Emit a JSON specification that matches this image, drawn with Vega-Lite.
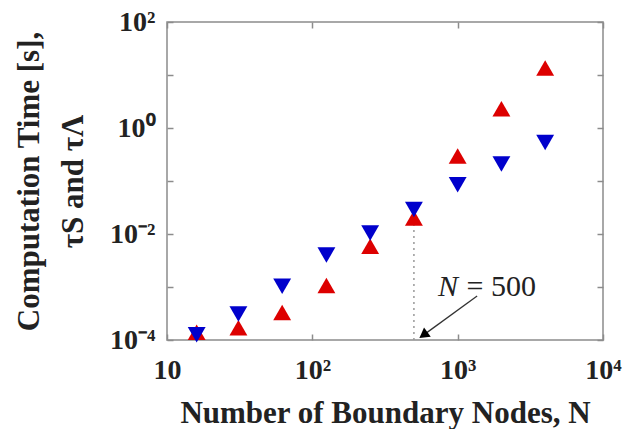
{
  "$schema": "https://vega.github.io/schema/vega-lite/v6.json",
  "width": 436,
  "height": 318,
  "autosize": "none",
  "padding": {"left": 167, "top": 22, "right": 34, "bottom": 89},
  "background": "white",
  "config": {
    "view": {"stroke": "#8c8c8c", "strokeWidth": 1.5},
    "axis": {
      "grid": false,
      "domain": false,
      "tickColor": "#8c8c8c",
      "tickSize": -6,
      "tickWidth": 1.5,
      "labelFlush": false,
      "labelFont": "Liberation Serif",
      "labelFontWeight": "bold",
      "labelFontSize": 28,
      "labelColor": "#222222",
      "titleFont": "Liberation Serif",
      "titleFontWeight": "bold",
      "titleFontSize": 31,
      "titleColor": "#222222"
    }
  },
  "datasets": {
    "times": [
      {"N": 16, "tau": 0.00014, "series": "S"},
      {"N": 31, "tau": 0.00017, "series": "S"},
      {"N": 62, "tau": 0.00033, "series": "S"},
      {"N": 125, "tau": 0.00107, "series": "S"},
      {"N": 250, "tau": 0.0059, "series": "S"},
      {"N": 500, "tau": 0.020, "series": "S"},
      {"N": 1000, "tau": 0.295, "series": "S"},
      {"N": 2000, "tau": 2.32, "series": "S"},
      {"N": 4000, "tau": 13.5, "series": "S"},
      {"N": 16, "tau": 0.000126, "series": "L"},
      {"N": 31, "tau": 0.00031, "series": "L"},
      {"N": 62, "tau": 0.00103, "series": "L"},
      {"N": 125, "tau": 0.0040, "series": "L"},
      {"N": 250, "tau": 0.0104, "series": "L"},
      {"N": 500, "tau": 0.029, "series": "L"},
      {"N": 1000, "tau": 0.085, "series": "L"},
      {"N": 2000, "tau": 0.21, "series": "L"},
      {"N": 4000, "tau": 0.53, "series": "L"}
    ],
    "guide": [{"N": 500, "y1": 0.0001, "y2": 0.016}],
    "pointer": [{"N1": 1361, "t1": 0.000676, "N2": 581, "t2": 0.0001236}],
    "head": [{"N": 581, "tau": 0.0001236}],
    "labelN": [{"N": 733, "tau": 0.000676, "part": "N"}],
    "labelEq": [{"N": 1150, "tau": 0.000676, "part": "= 500"}]
  },
  "layer": [
    {
      "data": {"name": "guide"},
      "mark": {"type": "rule", "color": "#999999", "strokeWidth": 1.5, "strokeDash": [2, 4]},
      "encoding": {
        "x": {"field": "N", "type": "quantitative", "scale": {"type": "log", "domain": [10, 10000]},
              "axis": {"orient": "top", "values": [10, 100, 1000, 10000], "labels": false, "title": null}},
        "y": {"field": "y1", "type": "quantitative", "scale": {"type": "log", "domain": [0.0001, 100]},
              "axis": {"orient": "right", "values": [0.0001, 0.001, 0.01, 0.1, 1, 10, 100], "labels": false, "title": null}},
        "y2": {"field": "y2"}
      }
    },
    {
      "data": {"name": "times"},
      "mark": {"type": "point", "filled": true, "opacity": 1, "size": 320},
      "encoding": {
        "x": {"field": "N", "type": "quantitative", "scale": {"type": "log", "domain": [10, 10000]},
              "axis": {"orient": "bottom", "values": [10, 100, 1000, 10000], "labelPadding": 22,
                       "labelExpr": "datum.value == 10 ? '10' : datum.value == 100 ? '10²' : datum.value == 1000 ? '10³' : '10⁴'",
                       "title": "Number of Boundary Nodes, N", "titlePadding": 14}},
        "y": {"field": "tau", "type": "quantitative", "scale": {"type": "log", "domain": [0.0001, 100]},
              "axis": {"orient": "left", "values": [0.0001, 0.001, 0.01, 0.1, 1, 10, 100], "labelPadding": 18,
                       "labelExpr": "round(log(datum.value)/LN10) == -4 ? '10⁻⁴' : round(log(datum.value)/LN10) == -2 ? '10⁻²' : round(log(datum.value)/LN10) == 0 ? '10⁰' : round(log(datum.value)/LN10) == 2 ? '10²' : ''",
                       "title": ["Computation Time [s],", "τS and τΛ"], "titlePadding": 20, "titleLineHeight": 44}},
        "shape": {"field": "series", "type": "nominal", "scale": {"domain": ["S", "L"], "range": ["triangle-up", "triangle-down"]}, "legend": null},
        "color": {"field": "series", "type": "nominal", "scale": {"domain": ["S", "L"], "range": ["#dd0000", "#0000cc"]}, "legend": null}
      }
    },
    {
      "data": {"name": "pointer"},
      "mark": {"type": "rule", "color": "#333333", "strokeWidth": 1.3},
      "encoding": {
        "x": {"field": "N1", "type": "quantitative", "axis": null},
        "y": {"field": "t1", "type": "quantitative", "axis": null},
        "x2": {"field": "N2"},
        "y2": {"field": "t2"}
      }
    },
    {
      "data": {"name": "head"},
      "mark": {"type": "point", "shape": "triangle-up", "filled": true, "opacity": 1, "color": "black", "size": 130, "angle": 234},
      "encoding": {
        "x": {"field": "N", "type": "quantitative", "axis": null},
        "y": {"field": "tau", "type": "quantitative", "axis": null}
      }
    },
    {
      "data": {"name": "labelN"},
      "mark": {"type": "text", "font": "Liberation Serif", "fontSize": 30, "fontStyle": "italic", "align": "left", "baseline": "alphabetic", "color": "#222222"},
      "encoding": {
        "x": {"field": "N", "type": "quantitative", "axis": null},
        "y": {"field": "tau", "type": "quantitative", "axis": null},
        "text": {"field": "part"}
      }
    },
    {
      "data": {"name": "labelEq"},
      "mark": {"type": "text", "font": "Liberation Serif", "fontSize": 30, "align": "left", "baseline": "alphabetic", "color": "#222222"},
      "encoding": {
        "x": {"field": "N", "type": "quantitative", "axis": null},
        "y": {"field": "tau", "type": "quantitative", "axis": null},
        "text": {"field": "part"}
      }
    }
  ],
  "resolve": {"axis": {"x": "independent", "y": "independent"}}
}
